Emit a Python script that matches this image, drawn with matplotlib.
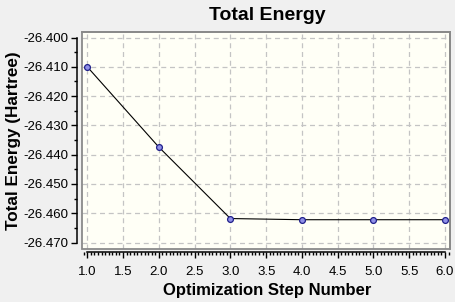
import matplotlib
matplotlib.use("Agg")
import matplotlib.pyplot as plt
from matplotlib.patches import Rectangle
from matplotlib.ticker import MultipleLocator, FormatStrFormatter

# optimization history
steps = [1, 2, 3, 4, 5, 6]
energy = [-26.4100, -26.4374, -26.4618, -26.4622, -26.4622, -26.4622]

title = "Total Energy"
xlabel = "Optimization Step Number"
ylabel = "Total Energy (Hartree)"

plt.rcParams['font.family'] = ['Liberation Sans', 'DejaVu Sans']

W, H = 456, 302
fig = plt.figure(figsize=(W/100, H/100), dpi=100, facecolor='#f0f0f0')
ax = fig.add_axes([82/W, 1-249/H, 368/W, 217/H])
ax.set_facecolor('#fffff6')

ax.plot(steps, energy, color='black', lw=0.8, marker='o', markersize=4.2,
        markerfacecolor='#9090e8', markeredgecolor='#20208a', markeredgewidth=0.9,
        zorder=3)

ax.set_xlim(0.926, 6.07)
ax.set_ylim(-26.4722, -26.3981)

ax.xaxis.set_major_locator(MultipleLocator(0.5))
ax.xaxis.set_minor_locator(MultipleLocator(0.05))
ax.yaxis.set_major_locator(MultipleLocator(0.01))
ax.yaxis.set_minor_locator(MultipleLocator(0.005))
ax.xaxis.set_major_formatter(FormatStrFormatter('%.1f'))
ax.yaxis.set_major_formatter(FormatStrFormatter('%.3f'))

ax.grid(True, which='major', ls=(0, (4, 3)), color='#c4c4c4', lw=0.9)

# axis lines sit a little outside the box, like the original
ax.spines['left'].set_position(('outward', 3.6))
ax.spines['bottom'].set_position(('outward', 2.5))
ax.spines['left'].set_bounds(-26.470, -26.400)
ax.spines['bottom'].set_bounds(1.0, 6.0)
for s in ['left', 'bottom']:
    ax.spines[s].set_linewidth(1.1)
for s in ['top', 'right']:
    ax.spines[s].set_color('#8a8a8a')
    ax.spines[s].set_linewidth(1.3)
ax.add_patch(Rectangle((0, 0), 1, 1, transform=ax.transAxes, fill=False,
                       edgecolor='#8a8a8a', lw=1.3, clip_on=False, zorder=4))

ax.tick_params(which='major', direction='out', length=4.5, width=1, labelsize=9.5)
ax.tick_params(which='minor', direction='out', length=2.5, width=1)
ax.tick_params(axis='y', which='major', pad=1.5)
ax.tick_params(axis='x', which='major', pad=5)

fig.text(267/W, 1-15/H, title, ha='center', va='center', fontsize=14, fontweight='bold')
fig.text(267/W, 1-290/H, xlabel, ha='center', va='center', fontsize=12, fontweight='bold')
fig.text(13.5/W, 1-141/H, ylabel, ha='center', va='center', rotation=90,
         fontsize=12.3, fontweight='bold')

fig.savefig('out.png', dpi=100, facecolor=fig.get_facecolor())
